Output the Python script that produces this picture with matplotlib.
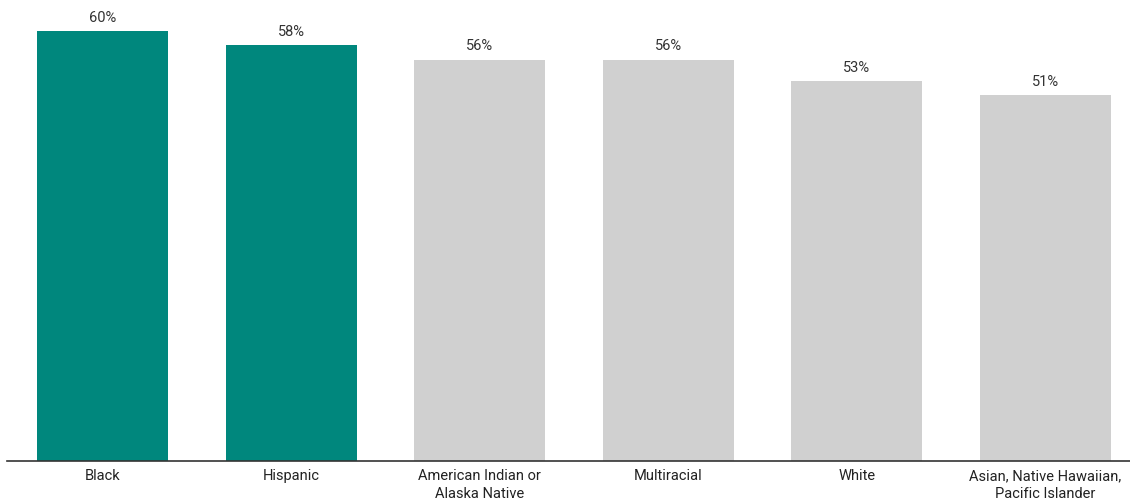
import matplotlib.pyplot as plt

plt.rcParams['font.family'] = ['Roboto', 'DejaVu Sans']

groups = ['Black', 'Hispanic', 'American Indian or\nAlaska Native', 'Multiracial',
          'White', 'Asian, Native Hawaiian,\nPacific Islander']
shares = [60, 58, 56, 56, 53, 51]
highlight = [True, True, False, False, False, False]

teal = '#00877d'
grey = '#d0d0d0'
colors = [teal if h else grey for h in highlight]

fig = plt.figure(figsize=(11.3, 5.03), dpi=100)
ax = fig.add_axes([7 / 1130, 42 / 503, 1 - 7 / 1130, 1 - 42 / 503])

x = range(len(groups))
bars = ax.bar(x, shares, width=0.695, color=colors)

for b, v in zip(bars, shares):
    ax.annotate(f'{v}%', (b.get_x() + b.get_width() / 2, v),
                xytext=(0, 4.5), textcoords='offset points',
                ha='center', va='bottom', fontsize=10.5, color='#333333')

ax.set_xlim(-0.506, 5.448)
ax.set_ylim(0, 64.3)
ax.set_xticks(list(x))
ax.set_xticklabels(groups, fontsize=10.5, color='#222222', linespacing=1.35)
ax.tick_params(axis='x', length=0, pad=6)
ax.set_yticks([])
for s in ['top', 'right', 'left']:
    ax.spines[s].set_visible(False)
ax.spines['bottom'].set_color('#333333')
ax.spines['bottom'].set_linewidth(1.2)

fig.savefig('out.png', dpi=100)
